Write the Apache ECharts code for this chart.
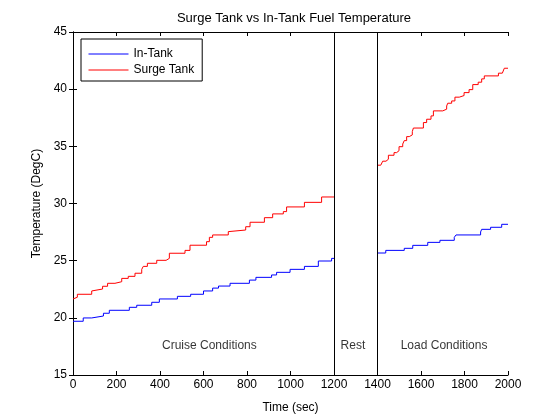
<!DOCTYPE html>
<html>
<head>
<meta charset="utf-8">
<script src="https://cdn.jsdelivr.net/npm/echarts@6/dist/echarts.min.js"></script>
<style>html,body{margin:0;padding:0;background:#fff}#c{width:560px;height:420px}</style>
</head>
<body>
<div id="c"></div>
<script>
// ---- Data ----
var inTankCruiseT = [0, 47, 86, 140, 167, 259, 293, 362, 397, 480, 541, 600, 642, 669, 722, 811, 841, 913, 936, 998, 1064, 1128, 1189, 1200];
var inTankCruiseV = [19.70, 19.99, 20.16, 20.40, 20.66, 20.92, 21.10, 21.36, 21.65, 21.88, 22.06, 22.35, 22.60, 22.78, 23.02, 23.30, 23.54, 23.75, 23.98, 24.24, 24.50, 24.97, 25.20, 25.20];
var inTankLoadT = [1400, 1438, 1523, 1562, 1631, 1687, 1753, 1761, 1874, 1879, 1920, 1971, 2000];
var inTankLoadV = [25.67, 25.90, 26.08, 26.34, 26.60, 26.78, 27.04, 27.25, 27.51, 27.74, 27.92, 28.18, 28.18];
var surgeCruiseT = [0, 9, 20, 86, 94, 136, 159, 193, 224, 254, 285, 316, 323, 342, 385, 428, 443, 515, 538, 614, 627, 642, 714, 722, 794, 814, 880, 918, 967, 982, 1064, 1143, 1200];
var surgeCruiseV = [21.65, 21.80, 22.06, 22.35, 22.52, 22.76, 23.02, 23.16, 23.45, 23.63, 23.90, 24.24, 24.50, 24.77, 25.03, 25.20, 25.65, 25.90, 26.35, 26.66, 27.04, 27.25, 27.54, 27.68, 27.97, 28.36, 28.76, 29.09, 29.29, 29.70, 30.10, 30.57, 30.57];
var surgeLoadT = [1400, 1415, 1424, 1439, 1450, 1476, 1488, 1499, 1516, 1523, 1534, 1546, 1560, 1565, 1611, 1626, 1646, 1657, 1700, 1718, 1723, 1741, 1756, 1776, 1798, 1821, 1838, 1863, 1879, 1891, 1956, 1974, 1983, 2000];
var surgeLoadV = [33.35, 33.52, 33.70, 33.87, 34.22, 34.45, 34.62, 34.97, 35.20, 35.50, 35.85, 36.00, 36.29, 36.60, 37.08, 37.37, 37.66, 38.10, 38.25, 38.53, 38.77, 38.97, 39.30, 39.44, 39.70, 39.96, 40.40, 40.61, 40.90, 41.16, 41.40, 41.54, 41.83, 41.83];
var phaseBoundaries = [1200, 1400];
var annotationNames = ['Cruise Conditions', 'Rest', 'Load Conditions'];
var annotationX = [627, 1287, 1706];
var annotationY = [17.55, 17.55, 17.55];
var seriesNames = ['In-Tank', 'Surge Tank'];

function pairs(t, v) { return t.map(function (x, i) { return [x, v[i]]; }); }

var FONT = "'Liberation Sans', Arial, sans-serif";
var chart = echarts.init(document.getElementById('c'), null, { renderer: 'canvas' });

function lineSeries(name, color, t, v, extra) {
  var s = {
    name: name, type: 'line', step: 'end', symbol: 'none', showSymbol: false,
    data: pairs(t, v), lineStyle: { color: color, width: 1 }, itemStyle: { color: color },
    animation: false, silent: true, z: 3
  };
  if (extra) for (var k in extra) s[k] = extra[k];
  return s;
}

var axisCommon = {
  axisLine: { show: true, lineStyle: { color: '#000', width: 1 } },
  axisTick: { show: true, inside: true, length: 4, lineStyle: { color: '#000' } },
  splitLine: { show: false }
};

var option = {
  backgroundColor: '#fff',
  animation: false,
  textStyle: { fontFamily: FONT },
  title: {
    text: 'Surge Tank vs In-Tank Fuel Temperature',
    left: 289, top: 7, textAlign: 'center',
    textStyle: { fontFamily: FONT, fontSize: 13, fontWeight: 'normal', color: '#000' }
  },
  legend: {
    data: seriesNames, orient: 'vertical', left: 81, top: 39,
    padding: [9, 8, 5, 7], itemGap: 4, itemWidth: 40, itemHeight: 14,
    itemStyle: { opacity: 0 },
    lineStyle: { width: 1 },
    borderColor: '#000', borderWidth: 1, backgroundColor: '#fff', borderRadius: 0,
    textStyle: { fontFamily: FONT, fontSize: 12, color: '#000' }
  },
  grid: { left: 73, right: 52, top: 32, bottom: 45, containLabel: false },
  xAxis: [
    Object.assign({}, axisCommon, {
      type: 'value', min: 0, max: 2000, interval: 200, position: 'bottom',
      name: 'Time (sec)', nameLocation: 'middle', nameGap: 27,
      nameTextStyle: { fontFamily: FONT, fontSize: 12, color: '#000' },
      axisLabel: { fontFamily: FONT, fontSize: 12, color: '#000', margin: 4,
        formatter: function (v) { return String(v); } }
    }),
    Object.assign({}, axisCommon, {
      type: 'value', min: 0, max: 2000, interval: 200, position: 'top',
      axisLabel: { show: false }
    })
  ],
  yAxis: [
    Object.assign({}, axisCommon, {
      type: 'value', min: 15, max: 45, interval: 5, position: 'left',
      name: 'Temperature (DegC)', nameLocation: 'middle', nameGap: 28,
      nameTextStyle: { fontFamily: FONT, fontSize: 12, color: '#000' },
      axisLabel: { fontFamily: FONT, fontSize: 12, color: '#000', margin: 6 }
    }),
    Object.assign({}, axisCommon, {
      type: 'value', min: 15, max: 45, interval: 5, position: 'right',
      axisLabel: { show: false }
    })
  ],
  series: [
    lineSeries(seriesNames[0], '#0000ff', inTankCruiseT, inTankCruiseV, {
      markLine: {
        silent: true, symbol: 'none', animation: false,
        label: { show: false },
        lineStyle: { color: '#000', width: 1, type: 'solid' },
        data: phaseBoundaries.map(function (x) { return { xAxis: x }; })
      }
    }),
    lineSeries(seriesNames[0], '#0000ff', inTankLoadT, inTankLoadV),
    lineSeries(seriesNames[1], '#ff0000', surgeCruiseT, surgeCruiseV),
    lineSeries(seriesNames[1], '#ff0000', surgeLoadT, surgeLoadV),
    {
      name: 'annotations', type: 'scatter', symbolSize: 0, silent: true,
      data: annotationNames.map(function (n, i) { return { name: n, value: [annotationX[i], annotationY[i]] }; }),
      label: {
        show: true, position: 'inside', formatter: '{b}',
        fontFamily: FONT, fontSize: 12, color: '#000'
      }
    }
  ]
};
chart.setOption(option);
</script>
</body>
</html>
